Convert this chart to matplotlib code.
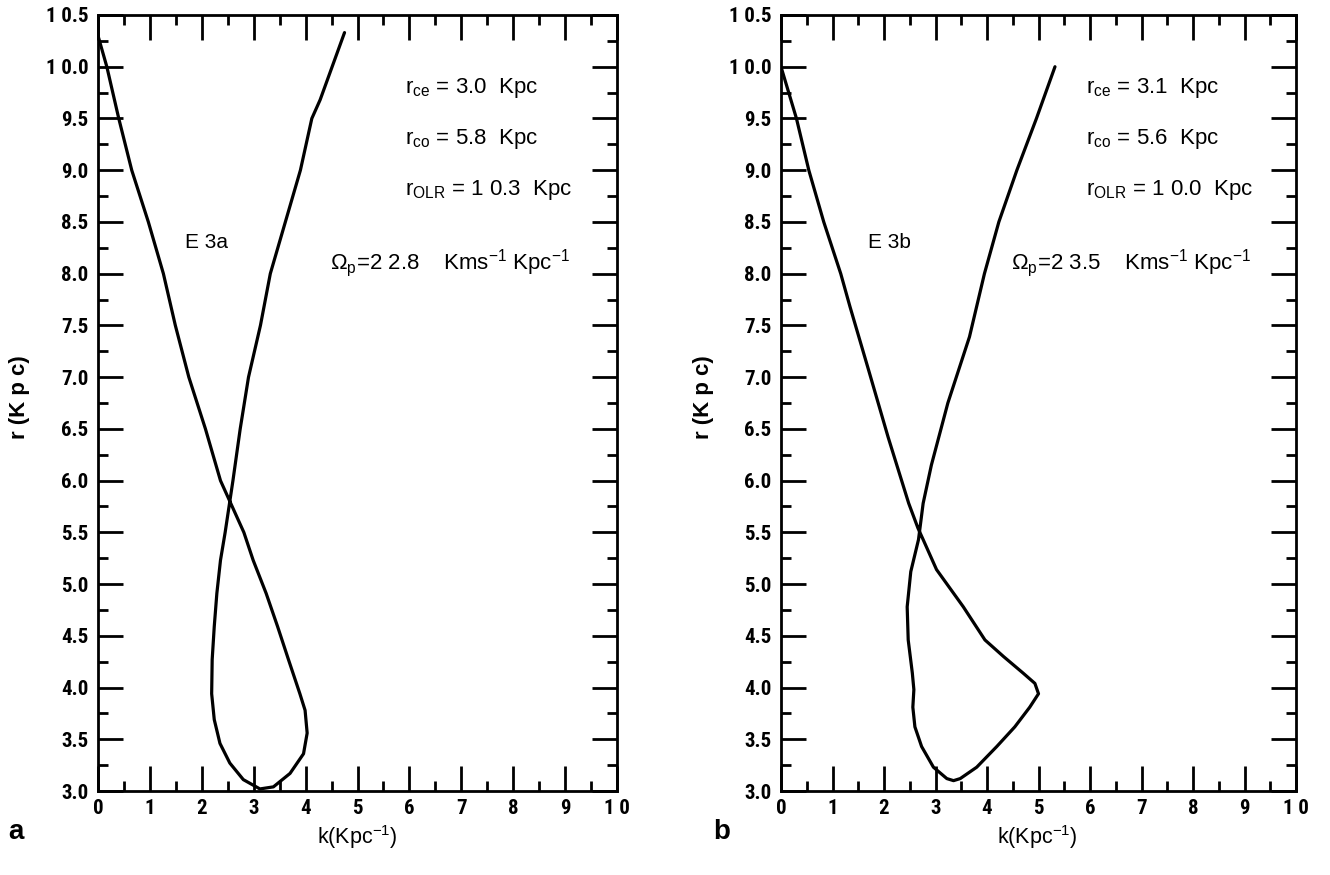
import matplotlib
matplotlib.use("Agg")
import matplotlib.pyplot as plt
from matplotlib import font_manager
from matplotlib.ticker import MultipleLocator, FixedLocator, FixedFormatter

# ---------------- data ----------------
# Panel a (E3a): one continuous curve, (k, r) pairs
k_a = [0.00, 0.17, 0.40, 0.65, 0.97, 1.26, 1.49, 1.75, 2.07, 2.36, 2.54, 2.81,
       2.99, 3.24, 3.46, 3.67, 3.89, 3.99, 4.03, 3.96, 3.70, 3.38, 3.12, 2.80,
       2.54, 2.35, 2.24, 2.19, 2.20, 2.24, 2.29, 2.36, 2.45, 2.54, 2.60, 2.74,
       2.90, 3.13, 3.32, 3.61, 3.90, 4.12, 4.28, 4.75]
r_a = [10.30, 10.00, 9.50, 9.00, 8.50, 8.00, 7.50, 7.00, 6.50, 6.00, 5.80, 5.50,
       5.23, 4.91, 4.59, 4.27, 3.94, 3.78, 3.56, 3.36, 3.17, 3.04, 3.02, 3.11,
       3.27, 3.46, 3.69, 3.94, 4.27, 4.59, 4.91, 5.23, 5.50, 5.80, 6.00, 6.50,
       7.00, 7.50, 8.00, 8.50, 9.00, 9.50, 9.68, 10.33]

# Panel b (E3b)
k_b = [0.00, 0.30, 0.54, 0.83, 1.16, 1.34, 1.70, 2.08, 2.48, 2.66, 2.76, 3.02,
       3.54, 3.96, 4.32, 4.70, 4.93, 5.00, 4.83, 4.54, 4.19, 3.80, 3.48, 3.35,
       3.22, 2.96, 2.73, 2.60, 2.56, 2.58, 2.55, 2.47, 2.45, 2.52, 2.67, 2.76,
       2.92, 3.24, 3.66, 3.95, 4.23, 4.58, 4.96, 5.32]
r_b = [10.00, 9.50, 9.00, 8.50, 8.00, 7.68, 7.07, 6.42, 5.78, 5.54, 5.43, 5.14,
       4.78, 4.46, 4.30, 4.14, 4.04, 3.94, 3.81, 3.62, 3.43, 3.23, 3.12, 3.10,
       3.12, 3.23, 3.43, 3.62, 3.81, 3.98, 4.14, 4.46, 4.78, 5.12, 5.43, 5.78,
       6.15, 6.75, 7.39, 8.00, 8.50, 9.00, 9.50, 10.00]

x_ticks = [0, 1, 2, 3, 4, 5, 6, 7, 8, 9, 10]
x_ticklabels = ["0", "1", "2", "3", "4", "5", "6", "7", "8", "9", "1 0"]
y_ticks = [3.0, 3.5, 4.0, 4.5, 5.0, 5.5, 6.0, 6.5, 7.0, 7.5, 8.0, 8.5, 9.0,
           9.5, 10.0, 10.5]
y_ticklabels = ["3.0", "3.5", "4.0", "4.5", "5.0", "5.5", "6.0", "6.5", "7.0",
                "7.5", "8.0", "8.5", "9.0", "9.5", "1 0.0", "1 0.5"]

labels_a = {"name": "E 3a", "rce": "3.0", "rco": "5.8", "rolr": "1 0.3", "omega": "2 2.8"}
labels_b = {"name": "E 3b", "rce": "3.1", "rco": "5.6", "rolr": "1 0.0", "omega": "2 3.5"}


# ---------------- fonts ----------------
def pick(fams):
    for f in fams:
        try:
            font_manager.findfont(f, fallback_to_default=False)
            return f
        except Exception:
            pass
    return "DejaVu Sans"

narrow = pick(["Liberation Sans Narrow", "Roboto Condensed", "Liberation Sans"])
plain = pick(["Liberation Sans", "DejaVu Sans"])
plt.rcParams["font.family"] = [narrow, "DejaVu Sans"]
plt.rcParams["mathtext.fontset"] = "custom"
plt.rcParams["mathtext.rm"] = plain
plt.rcParams["mathtext.it"] = plain + ":italic"
plt.rcParams["mathtext.bf"] = plain + ":bold"

W, H = 1330, 875
fig = plt.figure(figsize=(W / 100, H / 100), dpi=100)


def px_ax(x0, x1, y0, y1):
    return [x0 / W, 1 - y1 / H, (x1 - x0) / W, (y1 - y0) / H]


def setup(ax, k, r, lab):
    ax.plot(k, r, color="black", lw=2.3, solid_capstyle="round", solid_joinstyle="round")
    ax.set_xlim(0, 10)
    ax.set_ylim(3.0, 10.5)
    ax.xaxis.set_major_locator(FixedLocator(x_ticks))
    ax.xaxis.set_major_formatter(FixedFormatter(x_ticklabels))
    ax.yaxis.set_major_locator(FixedLocator(y_ticks))
    ax.yaxis.set_major_formatter(FixedFormatter(y_ticklabels))
    ax.xaxis.set_minor_locator(MultipleLocator(0.5))
    ax.yaxis.set_minor_locator(MultipleLocator(0.25))
    ax.tick_params(which="both", direction="in", top=True, right=True, width=2.0, color="black")
    ax.tick_params(which="major", length=18)
    ax.tick_params(which="minor", length=7.5)
    ax.tick_params(axis="x", which="major", pad=6, labelsize=15)
    ax.tick_params(axis="y", which="major", pad=7, labelsize=15)
    for t in ax.get_xticklabels() + ax.get_yticklabels():
        t.set_fontweight("bold")
    for s in ax.spines.values():
        s.set_linewidth(2.0)

    fs = 16
    fam = plain
    ax.text(5.92, 9.79, r"$\mathregular{r_{ce}}$" + " = " + lab["rce"] + "  Kpc", fontsize=fs,
            va="center", ha="left", family=fam)
    ax.text(5.92, 9.30, r"$\mathregular{r_{co}}$" + " = " + lab["rco"] + "  Kpc", fontsize=fs,
            va="center", ha="left", family=fam)
    ax.text(5.92, 8.81, r"$\mathregular{r_{OLR}}$" + " = " + lab["rolr"] + "  Kpc", fontsize=fs,
            va="center", ha="left", family=fam)
    ax.text(4.47, 8.10, r"$\mathit{\Omega}_{\mathregular{p}}$" + "=" + lab["omega"] +
            r"    Kms$^{\mathregular{-1}}$ Kpc$^{\mathregular{-1}}$", fontsize=fs,
            va="center", ha="left", family=fam)
    ax.text(1.68, 8.30, lab["name"], fontsize=15, va="center", ha="left", family=fam)


ax1 = fig.add_axes(px_ax(98, 617, 15, 791))
setup(ax1, k_a, r_a, labels_a)
ax2 = fig.add_axes(px_ax(781, 1296, 15, 791))
setup(ax2, k_b, r_b, labels_b)

# axis labels and panel letters
for xc, yl in [(357, 20), (1037, 703)]:
    fig.text(xc / W, 1 - 823 / H, r"k(Kpc$^{\mathregular{-1}}$)", fontsize=15.5,
             ha="center", va="top", family=plain)
    fig.text(yl / W, 1 - 397 / H, "r (K p c)", fontsize=16, fontweight="bold",
             rotation=90, ha="center", va="center", family=plain)

fig.text(16 / W, 1 - 832 / H, "a", fontsize=20, fontweight="bold", family=plain,
         ha="center", va="center")
fig.text(722 / W, 1 - 832 / H, "b", fontsize=20, fontweight="bold", family=plain,
         ha="center", va="center")

fig.savefig("out.png", dpi=100)
